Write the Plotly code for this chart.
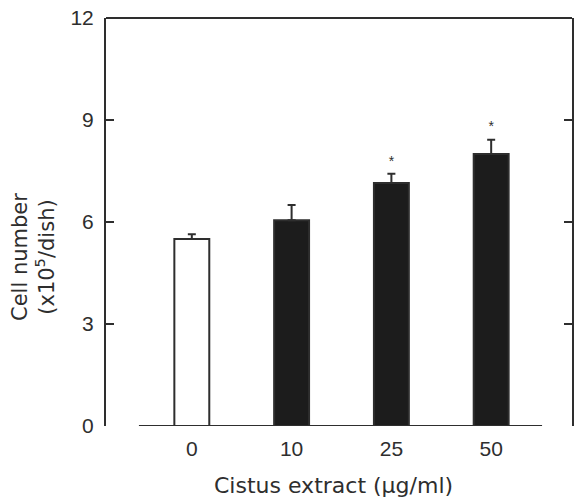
import plotly.graph_objects as go

categories = ["0", "10", "25", "50"]
means = [5.5, 6.05, 7.15, 8.0]
errors = [0.14, 0.45, 0.27, 0.42]
bar_colors = ["white", "#1c1c1c", "#1c1c1c", "#1c1c1c"]
star_cats = ["25", "50"]
star_y = [7.75, 8.78]
y_ticks = [0, 3, 6, 9, 12]

tick_font = "Liberation Sans, Arial, sans-serif"
title_font = "DejaVu Sans, Liberation Sans, sans-serif"
ink = "#2e2e2e"

fig = go.Figure()
fig.add_trace(go.Bar(
    x=categories, y=means, width=0.35,
    marker=dict(color=bar_colors, line=dict(color=ink, width=2)),
    error_y=dict(type="data", symmetric=False, array=errors,
                 arrayminus=[0] * len(errors), color=ink, thickness=2, width=4),
    showlegend=False,
))
fig.add_trace(go.Scatter(
    x=star_cats, y=star_y, mode="text", text=["*"] * len(star_cats),
    textfont=dict(size=14, color=ink, family=tick_font), showlegend=False,
))

# top frame line and x-axis baseline segment
fig.add_shape(type="line", xref="paper", yref="paper", x0=0, x1=1, y0=1, y1=1,
              line=dict(color=ink, width=2))
fig.add_shape(type="line", xref="x", yref="y", x0=-0.53, x1=3.51, y0=0, y1=0,
              line=dict(color=ink, width=2))

fig.add_annotation(
    text="Cell number<br>(x10<sup>5</sup>/dish)", xref="paper", yref="paper",
    x=-0.156, y=0.415, textangle=-90, showarrow=False,
    font=dict(size=21, color=ink, family=title_font), xanchor="center", yanchor="middle",
)
fig.add_annotation(
    text="Cistus extract (µg/ml)", xref="paper", yref="paper",
    x=0.489, y=-0.145, showarrow=False,
    font=dict(size=22, color=ink, family=title_font), xanchor="center", yanchor="middle",
)

fig.update_layout(
    width=576, height=497,
    margin=dict(l=106, r=2, t=18, b=71),
    plot_bgcolor="white", paper_bgcolor="white",
    font=dict(family=tick_font, color=ink, size=21),
    xaxis=dict(
        type="category", range=[-0.86, 3.81], showline=False, ticks="",
        showgrid=False, zeroline=False,
        tickfont=dict(size=21, color=ink, family=tick_font),
        ticklabelstandoff=8,
    ),
    yaxis=dict(
        range=[0, 12], tickvals=y_ticks, ticks="inside", ticklen=8, tickwidth=2,
        tickcolor=ink, showline=True, linecolor=ink, linewidth=2, mirror="ticks",
        showgrid=False, zeroline=False,
        tickfont=dict(size=21, color=ink, family=tick_font),
        ticklabelstandoff=6,
    ),
)

fig.write_html("out.html")
